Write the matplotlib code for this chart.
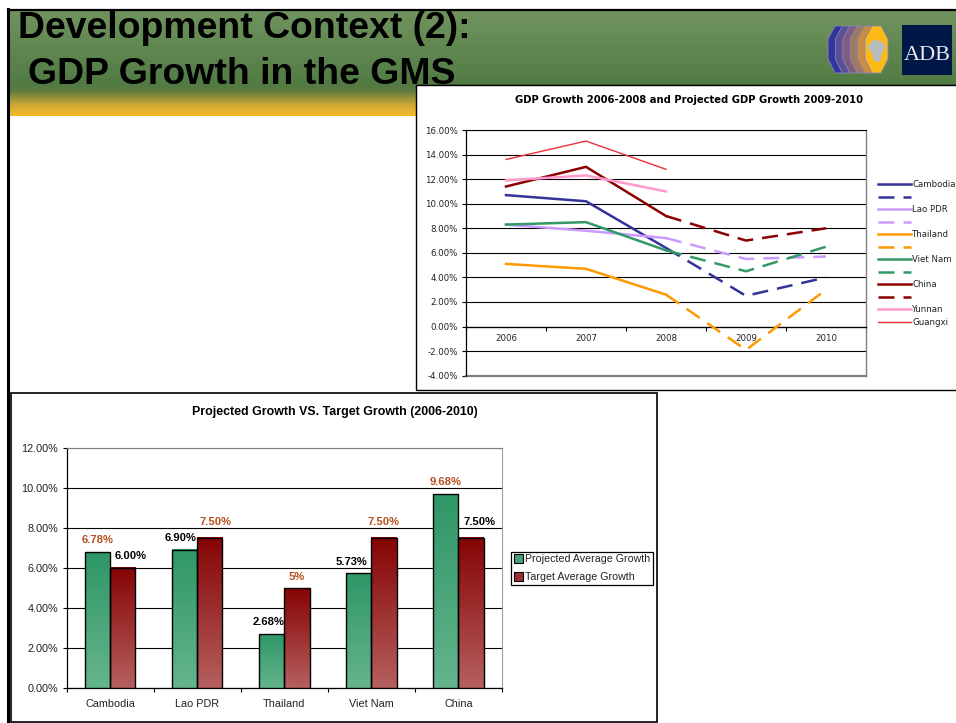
import numpy as np
import matplotlib
matplotlib.use("Agg")
import matplotlib.pyplot as plt
from matplotlib.colors import LinearSegmentedColormap
from matplotlib.lines import Line2D
from matplotlib.patches import Patch, Polygon, Rectangle

#line chart data
years = ["2006", "2007", "2008", "2009", "2010"]
cambodia = [10.7, 10.2, 6.4]
cambodia_proj = [6.4, 2.5, 4.0]
lao = [8.3, 7.8, 7.2]
lao_proj = [7.2, 5.5, 5.7]
thailand = [5.1, 4.7, 2.6]
thailand_proj = [2.6, -1.9, 3.0]
vietnam = [8.3, 8.5, 6.2]
vietnam_proj = [6.2, 4.5, 6.5]
china = [11.4, 13.0, 9.0]
china_proj = [9.0, 7.0, 8.0]
yunnan = [11.9, 12.3, 11.0]
guangxi = [13.6, 15.1, 12.8]

#bar chart data
countries = ["Cambodia", "Lao PDR", "Thailand", "Viet Nam", "China"]
projected = [6.78, 6.90, 2.68, 5.73, 9.68]
target = [6.00, 7.50, 5.00, 7.50, 7.50]
projected_labels = ["6.78%", "6.90%", "2.68%", "5.73%", "9.68%"]
target_labels = ["6.00%", "7.50%", "5%", "7.50%", "7.50%"]

W, H = 956, 723
ARIAL = "Liberation Sans"
VERDANA = "DejaVu Sans"
plt.rcParams["lines.scale_dashes"] = False

fig = plt.figure(figsize=(W / 100, H / 100), dpi=100, facecolor="white")

#axes from pixel box (left, top, right, bottom)
def px_axes(l, t, r, b, zorder):
    return fig.add_axes([l / W, 1 - b / H, (r - l) / W, (b - t) / H], zorder=zorder)

#slide background drawn in pixel coordinates
bg = px_axes(0, 0, W, H, 0)
bg.set_xlim(0, W)
bg.set_ylim(H, 0)
bg.axis("off")

header = LinearSegmentedColormap.from_list("header", [
    (0.0, "#71945F"), (0.70, "#527B44"), (0.76, "#5A7A40"),
    (0.90, "#D0A935"), (1.0, "#F3BA2B")])
bg.imshow(np.linspace(0, 1, 200).reshape(-1, 1), cmap=header, aspect="auto",
          extent=(9, W, 116, 10), zorder=1)
bg.set_xlim(0, W)
bg.set_ylim(H, 0)
bg.plot([8.5, 8.5], [9, H], color="black", lw=2.2, zorder=5)
bg.plot([8, W], [9.5, 9.5], color="black", lw=1.6, zorder=5)

bg.text(18, 38.5, "Development Context (2):", fontsize=26.9, fontweight="bold",
        family=ARIAL, color="black", zorder=3)
bg.text(28, 83.5, "GDP Growth in the GMS", fontsize=26.9, fontweight="bold",
        family=ARIAL, color="black", zorder=3)

#green band on the right side of the header has a black edge
bg.plot([416, W], [84.5, 84.5], color="black", lw=1, zorder=4)

#logo, stacked hexagons
hex_colors = ["#30369C", "#5B4F96", "#7E5E80", "#A07A60", "#C98D45", "#FDB915"]
for i, c in enumerate(hex_colors):
    x0 = 828 + i * 7.4
    bg.add_patch(Polygon([(x0, 39), (x0 + 7, 26), (x0 + 16, 26), (x0 + 23, 39),
                          (x0 + 23, 59), (x0 + 16, 73), (x0 + 7, 73), (x0, 59)],
                         facecolor=c, edgecolor="#8A86B8", lw=0.6, zorder=3))
bg.add_patch(Polygon([(867, 47), (873, 40), (881, 41), (886, 47), (882, 53),
                      (880, 62), (874, 61), (872, 53)],
                     facecolor="#B8BEC0", edgecolor="none", zorder=4))
bg.add_patch(Rectangle((902, 25), 50, 50, facecolor="#001848", edgecolor="none", zorder=3))
bg.text(927, 55, "ADB", family="Liberation Serif", fontsize=16, color="#E8E8EE",
        ha="center", va="center", zorder=4)

#chart frames
bg.add_patch(Rectangle((416.5, 85), 600, 305, facecolor="white", edgecolor="black", lw=1, zorder=6))
bg.add_patch(Rectangle((11, 393), 646, 329, facecolor="white", edgecolor="black", lw=1.2, zorder=6))

#line chart
ax = px_axes(466, 130, 866, 375.7, 2)
#moving the spine resets the ticks so it has to come first
ax.spines["bottom"].set_position(("data", 0))
xs = np.arange(len(years))
solid = [("Cambodia", cambodia, cambodia_proj, "#333399"),
         ("Lao PDR", lao, lao_proj, "#CC99FF"),
         ("Thailand", thailand, thailand_proj, "#FF9900"),
         ("Viet Nam", vietnam, vietnam_proj, "#339966"),
         ("China", china, china_proj, "#8B0000")]
handles = []
labels = []
for name, vals, proj, col in solid:
    l1, = ax.plot(xs[:3], vals, color=col, lw=1.8, zorder=3, solid_joinstyle="miter")
    l2, = ax.plot(xs[2:], proj, color=col, lw=1.8, zorder=3, dashes=(11.5, 6.5),
                  dash_capstyle="butt")
    handles += [l1, l2]
    labels += [name, ""]
l1, = ax.plot(xs[:3], yunnan, color="#FF99CC", lw=1.8, zorder=3)
l2, = ax.plot(xs[:3], guangxi, color="#E8303A", lw=1.0, zorder=3)
handles += [l1, l2]
labels += ["Yunnan", "Guangxi"]

ax.set_xlim(-0.5, 4.5)
ax.set_ylim(-4, 16)
ax.set_yticks(np.arange(-4, 17, 2))
ax.set_yticklabels(["%.2f%%" % v for v in np.arange(-4, 17, 2)], fontsize=6.2, family=VERDANA, color="#222222")
ax.set_xticks(np.arange(-0.5, 5, 1))
ax.set_xticklabels([])
ax.set_xticks(xs, minor=True)
ax.set_xticklabels(years, minor=True, fontsize=6.2, family=VERDANA, color="#222222")
ax.tick_params(axis="x", which="major", direction="out", length=3, width=0.8, color="black")
ax.tick_params(axis="x", which="minor", length=0, pad=5.5)
ax.tick_params(axis="y", direction="out", length=3, width=0.8, pad=3)
ax.grid(axis="y", color="black", lw=0.8, zorder=1)
ax.set_axisbelow(True)
ax.spines["bottom"].set_linewidth(0.9)
ax.spines["left"].set_linewidth(0.9)
ax.spines["right"].set_color("#808080")
ax.spines["top"].set_color("black")
ax.spines["right"].set_linewidth(1)
ax.spines["top"].set_linewidth(0.8)
ax.add_line(Line2D([0, 1], [0, 0], transform=ax.transAxes, color="#808080", lw=1.6, clip_on=False))
ax.set_facecolor("white")
ax.legend(handles, labels, loc="upper left", bbox_to_anchor=(878, 180), bbox_transform=bg.transData,
          frameon=False, prop={"family": VERDANA, "size": 6.2}, labelcolor="#222222",
          handlelength=3.85, handletextpad=0.15, labelspacing=0.41, borderpad=0, borderaxespad=0)
bg.text(689.5, 100, "GDP Growth 2006-2008 and Projected GDP Growth 2009-2010", fontsize=7.2,
        fontweight="bold", family=VERDANA, ha="center", va="center", zorder=7)

#bar chart
ax2 = px_axes(66.5, 447.7, 502, 687.7, 2)
xb = np.arange(len(countries))
bw = 0.29
bars1 = ax2.bar(xb - bw / 2, projected, bw, facecolor="none", edgecolor="black", lw=1, zorder=4)
bars2 = ax2.bar(xb + bw / 2, target, bw, facecolor="none", edgecolor="black", lw=1, zorder=4)

green_cm = LinearSegmentedColormap.from_list("g", ["#2F9767", "#65B48C"])
red_cm = LinearSegmentedColormap.from_list("r", ["#860404", "#B65F5F"])
grad = np.linspace(0, 1, 100).reshape(-1, 1)
for bars, cm in [(bars1, green_cm), (bars2, red_cm)]:
    for b in bars:
        ax2.imshow(grad, cmap=cm, aspect="auto", zorder=3,
                   extent=(b.get_x(), b.get_x() + b.get_width(), 0, b.get_height()))

ax2.set_xlim(-0.5, 4.5)
ax2.set_ylim(0, 12)
ax2.set_yticks(np.arange(0, 13, 2))
ax2.set_yticklabels(["%.2f%%" % v for v in np.arange(0, 13, 2)], fontsize=7.8, family=ARIAL, color="#222222")
ax2.set_xticks(np.arange(-0.5, 5, 1))
ax2.set_xticklabels([])
ax2.set_xticks(xb, minor=True)
ax2.set_xticklabels(countries, minor=True, fontsize=7.8, family=ARIAL, color="#222222")
ax2.tick_params(axis="x", which="major", direction="out", length=3, width=0.8)
ax2.tick_params(axis="x", which="minor", length=0, pad=8)
ax2.tick_params(axis="y", direction="out", length=3, width=0.8, pad=3)
ax2.grid(axis="y", color="black", lw=0.8, zorder=1)
ax2.set_axisbelow(True)
ax2.spines["right"].set_color("#A0A0A0")
ax2.spines["top"].set_color("#808080")
for s in ["left", "bottom"]:
    ax2.spines[s].set_linewidth(0.9)

#value labels, nudged by hand in pixels like the original
brown = "#B5501E"
proj_nudge = [(0, 12), (-4, 11.5), (-3, 12), (-7, 11), (0, 12)]
proj_colors = [brown, "black", "black", "black", brown]
targ_nudge = [(8, 11.5), (6, 15.5), (0, 11), (0, 15.5), (8, 15.5)]
targ_colors = ["black", brown, brown, brown, "black"]
for i in range(len(countries)):
    ax2.annotate(projected_labels[i], (xb[i] - bw / 2, projected[i]), xycoords="data",
                 xytext=(proj_nudge[i][0] * 0.72, proj_nudge[i][1] * 0.72), textcoords="offset points",
                 ha="center", va="center", fontsize=8.1, fontweight="bold", family=ARIAL,
                 color=proj_colors[i], zorder=6)
    ax2.annotate(target_labels[i], (xb[i] + bw / 2, target[i]), xycoords="data",
                 xytext=(targ_nudge[i][0] * 0.72, targ_nudge[i][1] * 0.72), textcoords="offset points",
                 ha="center", va="center", fontsize=8.1, fontweight="bold", family=ARIAL,
                 color=targ_colors[i], zorder=6)

leg_handles = [Patch(facecolor="#45A278", edgecolor="black", lw=0.8),
               Patch(facecolor="#9C3030", edgecolor="black", lw=0.8)]
leg = ax2.legend(leg_handles, ["Projected Average Growth", "Target Average Growth"],
                 loc="upper left", bbox_to_anchor=(511, 551.5), bbox_transform=bg.transData,
                 prop={"family": ARIAL, "size": 7.7}, labelcolor="#222222",
                 fancybox=False, edgecolor="black", framealpha=1, handlelength=0.85, handleheight=0.9,
                 handletextpad=0.25, labelspacing=0.7, borderpad=0.25, borderaxespad=0)
leg.get_frame().set_linewidth(0.9)
bg.text(334.5, 411.5, "Projected Growth VS. Target Growth (2006-2010)", fontsize=8.95,
        fontweight="bold", family=ARIAL, ha="center", va="center", zorder=7)

fig.savefig("out.png", dpi=100)
